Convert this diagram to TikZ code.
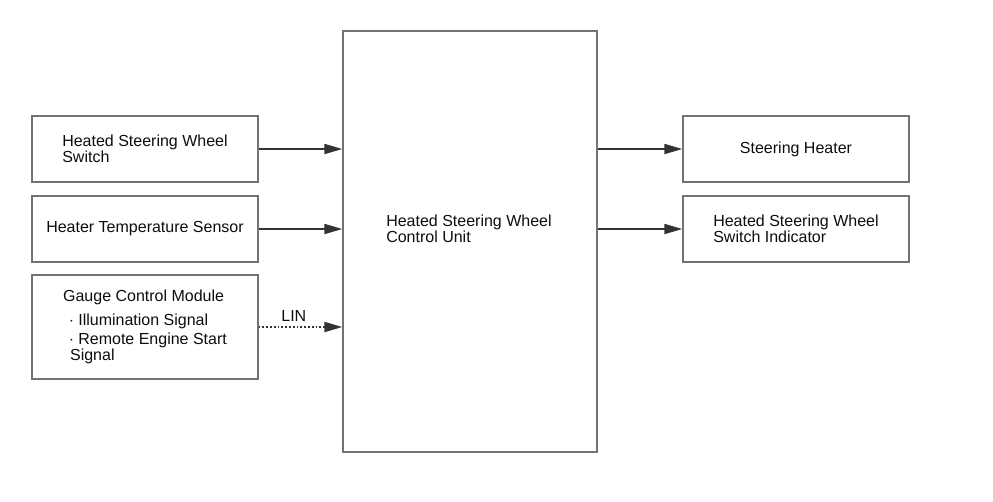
\documentclass[tikz,border=0pt]{standalone}
\usepackage{fontspec}
\setmainfont{Liberation Sans}
\usepackage{xcolor}
\usetikzlibrary{positioning, arrows.meta}

\begin{document}
\begin{tikzpicture}[x=1pt, y=-1pt,
		blk/.style={rectangle, draw=black!55, line width=1.3pt, minimum width=226pt, minimum height=66pt, align=left, inner sep=0, text=black!95, font=\fontsize{16}{16}\selectfont},
		sig/.style={draw=black!80, line width=1.8pt, -{Triangle[length=18pt, width=10pt]}}]
		\useasboundingbox (0,0) rectangle (993,501);
		% inputs
		\node[blk] at(145, 149) (hsw) {Heated Steering Wheel\\Switch};
		\node[blk] at(145, 229) (hts) {Heater Temperature Sensor};
		\node[blk, minimum height=104pt] at(145, 327) (gcm) {Gauge Control Module\\[8pt]
			\hspace{6pt}$\cdot$ Illumination Signal\\[3pt]
			\hspace{6pt}$\cdot$ Remote Engine Start\\
			\hspace{7pt}Signal};
		% control unit
		\node[blk, minimum width=254pt, minimum height=421pt] at(470, 241.5) (ecu) {};
		\node[font=\fontsize{16}{16}\selectfont, align=left, text=black!95, inner sep=0] at(469, 229) (ecutxt) {Heated Steering Wheel\\Control Unit};
		% outputs
		\node[blk] at(796, 149) (htr) {Steering Heater};
		\node[blk] at(796, 229) (ind) {Heated Steering Wheel\\Switch Indicator};
		\draw[sig] (hsw.east) -- (hsw.east -| ecu.west);
		\draw[sig] (hts.east) -- (hts.east -| ecu.west);
		\draw[sig] (ecu.east |- htr.west) -- (htr.west);
		\draw[sig] (ecu.east |- ind.west) -- (ind.west);
		\draw[sig, dotted, line width=2pt] (gcm.east) -- node[pos=0.42, above=1pt, font=\fontsize{16}{16}\selectfont, text=black!95] (lin) {LIN} (gcm.east -| ecu.west);
	\end{tikzpicture}
\end{document}
